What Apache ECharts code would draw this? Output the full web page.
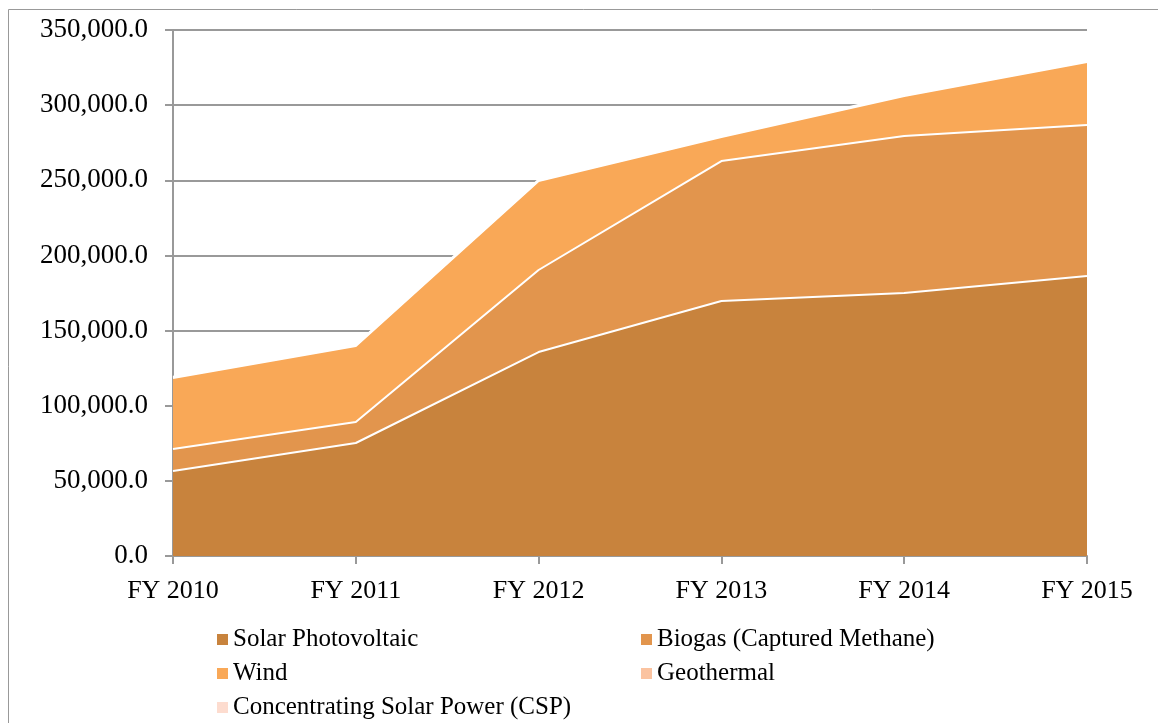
<!DOCTYPE html>
<html>
<head>
<meta charset="utf-8">
<script src="https://cdn.jsdelivr.net/npm/echarts@6/dist/echarts.min.js"></script>
<style>
  html, body { margin: 0; padding: 0; background: #fff; }
  #chart { width: 1158px; height: 723px; }
</style>
</head>
<body>
<div id="chart"></div>
<script>
  // fiscal years on the x axis
  var years = ['FY 2010', 'FY 2011', 'FY 2012', 'FY 2013', 'FY 2014', 'FY 2015'];

  // stacked values
  var solarPV    = [56500, 75200, 135700, 169700, 175000, 186300];
  var biogas     = [14700, 14000, 54600, 93100, 104500, 100500];
  var wind       = [47200, 50500, 59200, 16000, 26600, 41900];
  var geothermal = [500, 500, 500, 500, 500, 500];
  var csp        = [300, 300, 300, 300, 300, 300];

  var font = 'Liberation Serif';
  var chart = echarts.init(document.getElementById('chart'));

  function layer(name, data, color) {
    return {
      name: name,
      type: 'line',
      stack: 'total',
      data: data,
      symbol: 'none',
      areaStyle: { color: color, opacity: 1 },
      lineStyle: { color: '#ffffff', width: 2 },
      itemStyle: { color: color },
      emphasis: { disabled: true }
    };
  }

  var legendText = { fontFamily: font, fontSize: 25, color: '#000' };

  var option = {
    animation: false,
    textStyle: { fontFamily: font },
    graphic: [{
      type: 'rect',
      shape: { x: 8.5, y: 9.5, width: 1200, height: 800 },
      style: { fill: 'none', stroke: '#999', lineWidth: 1 },
      silent: true
    }],
    grid: { left: 173, right: 71, top: 30, bottom: 167 },
    legend: [
      {
        data: ['Solar Photovoltaic', 'Wind', 'Concentrating Solar Power (CSP)'],
        orient: 'vertical', left: 212, top: 622, height: 120, itemGap: 9,
        itemWidth: 11, itemHeight: 11, icon: 'rect',
        textStyle: legendText
      },
      {
        data: ['Biogas (Captured Methane)', 'Geothermal'],
        orient: 'vertical', left: 636, top: 622, height: 120, itemGap: 9,
        itemWidth: 11, itemHeight: 11, icon: 'rect',
        textStyle: legendText
      }
    ],
    xAxis: {
      type: 'category',
      data: years,
      boundaryGap: false,
      axisLine: { lineStyle: { color: '#999', width: 2 } },
      axisTick: { show: true, length: 8, alignWithLabel: true, lineStyle: { color: '#999', width: 2 } },
      axisLabel: { fontFamily: font, fontSize: 26, color: '#000', margin: 22 },
      splitLine: { show: false }
    },
    yAxis: {
      type: 'value',
      min: 0, max: 350000, interval: 50000,
      axisLine: { show: true, lineStyle: { color: '#999', width: 2 } },
      axisTick: { show: true, length: 8, lineStyle: { color: '#999', width: 2 } },
      axisLabel: {
        fontFamily: font, fontSize: 27, color: '#000', margin: 25,
        formatter: function (v) {
          return v.toLocaleString('en-US', { minimumFractionDigits: 1, maximumFractionDigits: 1 });
        }
      },
      splitLine: { show: true, lineStyle: { color: '#999', width: 2 } }
    },
    series: [
      layer('Solar Photovoltaic', solarPV, '#C8833D'),
      layer('Biogas (Captured Methane)', biogas, '#E2954D'),
      layer('Wind', wind, '#F9A857'),
      layer('Geothermal', geothermal, '#FBC3A0'),
      layer('Concentrating Solar Power (CSP)', csp, '#FDDCCF')
    ]
  };

  chart.setOption(option);
</script>
</body>
</html>
